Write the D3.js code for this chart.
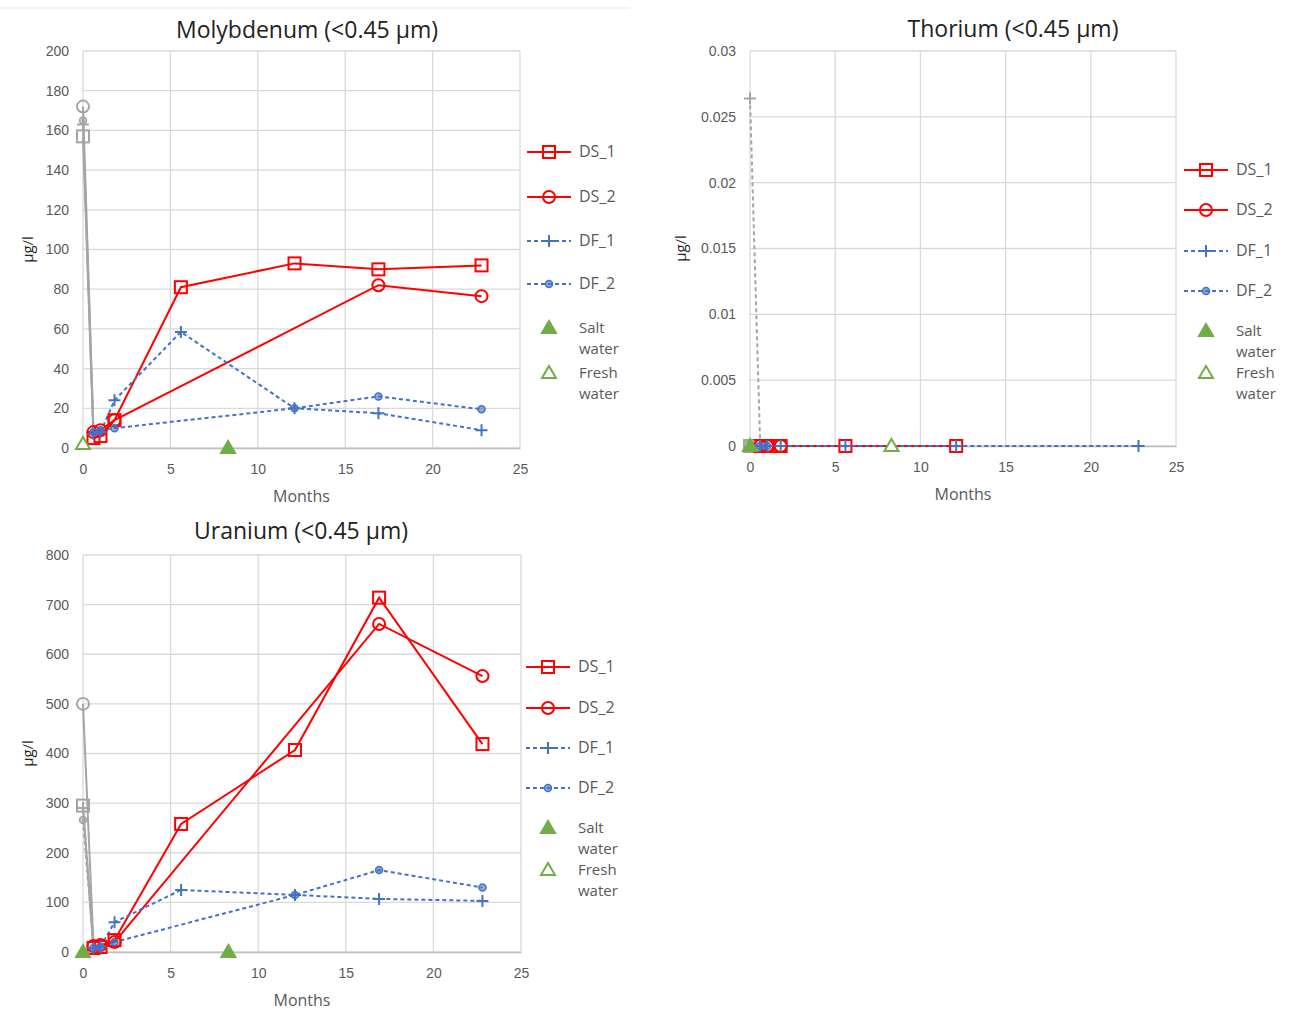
<!DOCTYPE html>
<html>
<head>
<meta charset="utf-8">
<script src="https://cdn.jsdelivr.net/npm/d3@7"></script>
<style>
  body { margin: 0; background: #fff; }
  svg { font-family: "Open Sans", "Noto Sans", sans-serif; }
</style>
</head>
<body>
<svg id="main" width="1293" height="1010"></svg>
<script>
// months of sampling (first point = initial value, drawn grey)
var dsMonths = [0, 0.6, 1.0, 1.8, 5.6, 12.1, 16.9, 22.8];
var dfMonths = [0, 0.6, 1.0, 1.8, 5.6, 12.1, 16.9, 22.8];

// Molybdenum (ug/l)
var moDS1 = [157, 5, 6, 14, 81, 93, 90, 92];
var moDS2 = [172, 8, 9, 14, null, null, 82, 76.5];
var moDF1 = [163, 7, 8, 24, 58.5, 20, 17.5, 9];
var moDF2 = [165, 8, 9, 10, null, 20, 26, 19.5];
var moSaltMonths = [8.3], moSalt = [0];
var moFreshMonths = [0], moFresh = [2];

// Thorium (ug/l)
var thDS1 = [0, 0, 0, 0, 0, 0, null, null];
var thDS2 = [0, 0, 0, 0, null, null, null, null];
var thDF1 = [0.0264, 0, 0, 0, 0, 0, null, 0];
var thDF2 = [0, 0, 0, null, null, null, null, null];
var thSaltMonths = [0], thSalt = [0];
var thFreshMonths = [8.3], thFresh = [0];

// Uranium (ug/l)
var uDS1 = [295, 8, 10, 24, 258, 407, 714, 419];
var uDS2 = [500, 12, 14, 20, null, null, 661, 556];
var uDF1 = [290, 8, 10, 60, 125, 115, 107, 103];
var uDF2 = [266, 8, 10, 20, null, 115, 165, 130];
var uSaltMonths = [0, 8.3], uSalt = [0, 0];
var uFreshMonths = [], uFresh = [];

var xTicks = [0, 5, 10, 15, 20, 25];
var moTicks = [0, 20, 40, 60, 80, 100, 120, 140, 160, 180, 200];
var thTicks = [0, 0.005, 0.01, 0.015, 0.02, 0.025, 0.03];
var uTicks = [0, 100, 200, 300, 400, 500, 600, 700, 800];

var legendNames = ["DS_1", "DS_2", "DF_1", "DF_2"];

var RED = "#FF0000", BLUE = "#4472C4", GREY = "#A5A5A5", GREEN = "#70AD47";
var GRID = "#D9D9D9", TEXT = "#595959";

var svg = d3.select("#main");

function pts(months, vals) {
  var out = [];
  for (var i = 0; i < months.length; i++) {
    if (vals[i] !== null && vals[i] !== undefined) out.push([months[i], vals[i]]);
  }
  return out;
}

function marker(g, type, x, y, color, fill) {
  if (type === "square") {
    g.append("rect").attr("x", x - 6).attr("y", y - 6).attr("width", 12).attr("height", 12)
      .attr("fill", "none").attr("stroke", color).attr("stroke-width", 2);
  } else if (type === "circle") {
    g.append("circle").attr("cx", x).attr("cy", y).attr("r", 6)
      .attr("fill", "none").attr("stroke", color).attr("stroke-width", 2);
  } else if (type === "plus") {
    g.append("path").attr("d", "M" + (x - 6) + "," + y + "h12M" + x + "," + (y - 6) + "v12")
      .attr("stroke", color).attr("stroke-width", 2);
  } else if (type === "dot") {
    g.append("circle").attr("cx", x).attr("cy", y).attr("r", 3.5)
      .attr("fill", color).attr("fill-opacity", 0.6).attr("stroke", color).attr("stroke-width", 1.5);
  } else if (type === "tri") {
    g.append("path").attr("d", "M" + x + "," + (y - 7) + "L" + (x + 7) + "," + (y + 5) + "L" + (x - 7) + "," + (y + 5) + "Z")
      .attr("fill", fill ? color : "#fff").attr("stroke", color).attr("stroke-width", 2);
  }
}

function drawChart(c) {
  var x = d3.scaleLinear().domain([0, 25]).range([c.left, c.right]);
  var y = d3.scaleLinear().domain([0, c.ticks[c.ticks.length - 1]]).range([c.bottom, c.top]);
  var g = svg.append("g");

  // grid
  g.selectAll(".hg").data(c.ticks).enter().append("line")
    .attr("x1", c.left).attr("x2", c.right)
    .attr("y1", function(d) { return y(d); }).attr("y2", function(d) { return y(d); })
    .attr("stroke", GRID).attr("stroke-width", 1.3);
  g.selectAll(".vg").data(xTicks).enter().append("line")
    .attr("y1", c.top).attr("y2", c.bottom)
    .attr("x1", function(d) { return x(d); }).attr("x2", function(d) { return x(d); })
    .attr("stroke", GRID).attr("stroke-width", 1.3);

  // axes
  var xa = g.append("g").attr("transform", "translate(0," + c.bottom + ")")
    .call(d3.axisBottom(x).tickValues(xTicks).tickSize(0).tickPadding(16).tickFormat(d3.format("d")));
  xa.select(".domain").attr("stroke", "#BFBFBF").attr("stroke-width", 1.5);
  var ya = g.append("g").attr("transform", "translate(" + c.left + ",0)")
    .call(d3.axisLeft(y).tickValues(c.ticks).tickSize(0).tickPadding(14).tickFormat(c.fmt));
  ya.select(".domain").remove();
  g.selectAll(".tick text").attr("font-size", 14).attr("fill", TEXT);

  // titles
  g.append("text").attr("x", c.titleX).attr("y", c.titleY).attr("text-anchor", "middle")
    .attr("font-size", 23).attr("fill", "#222").text(c.title);
  g.append("text").attr("x", (c.left + c.right) / 2).attr("y", c.bottom + 54)
    .attr("text-anchor", "middle").attr("font-size", 16).attr("fill", TEXT).text("Months");
  g.append("text").attr("transform", "translate(" + c.ylabX + "," + (c.top + c.bottom) / 2 + ") rotate(-90)")
    .attr("text-anchor", "middle").attr("font-size", 15).attr("fill", "#222").text("µg/l");

  var series = [
    { d: pts(dsMonths, c.ds1), m: "square", col: RED, dash: null },
    { d: pts(dsMonths, c.ds2), m: "circle", col: RED, dash: null },
    { d: pts(dfMonths, c.df1), m: "plus", col: BLUE, dash: "4,3" },
    { d: pts(dfMonths, c.df2), m: "dot", col: BLUE, dash: "4,3" }
  ];
  var line = d3.line().x(function(d) { return x(d[0]); }).y(function(d) { return y(d[1]); });

  series.forEach(function(s) {
    // grey segment from initial value
    g.append("path").datum(s.d.slice(0, 2)).attr("d", line).attr("fill", "none")
      .attr("stroke", GREY).attr("stroke-width", 2).attr("stroke-dasharray", s.dash);
    g.append("path").datum(s.d.slice(1)).attr("d", line).attr("fill", "none")
      .attr("stroke", s.col).attr("stroke-width", 2).attr("stroke-dasharray", s.dash);
  });
  series.forEach(function(s) {
    s.d.forEach(function(p, i) {
      marker(g, s.m, x(p[0]), y(p[1]), i === 0 ? GREY : s.col);
    });
  });
  pts(c.saltMonths, c.salt).forEach(function(p) { marker(g, "tri", x(p[0]), y(p[1]), GREEN, true); });
  pts(c.freshMonths, c.fresh).forEach(function(p) { marker(g, "tri", x(p[0]), y(p[1]), GREEN, false); });

  // legend
  var lg = g.append("g");
  legendNames.forEach(function(name, i) {
    var ly = c.legY[i], s = series[i];
    lg.append("line").attr("x1", c.legX).attr("x2", c.legX + 44).attr("y1", ly).attr("y2", ly)
      .attr("stroke", s.col).attr("stroke-width", 2).attr("stroke-dasharray", s.dash);
    marker(lg, s.m, c.legX + 22, ly, s.col);
    lg.append("text").attr("x", c.legX + 52).attr("y", ly + 5).attr("font-size", 16)
      .attr("fill", TEXT).text(name);
  });
  [["Salt", "water", true], ["Fresh", "water", false]].forEach(function(t, i) {
    var ly = c.legY[4 + i];
    marker(lg, "tri", c.legX + 22, ly, GREEN, t[2]);
    lg.append("text").attr("x", c.legX + 52).attr("y", ly + 5).attr("font-size", 15).attr("fill", TEXT).text(t[0]);
    lg.append("text").attr("x", c.legX + 52).attr("y", ly + 26).attr("font-size", 15).attr("fill", TEXT).text(t[1]);
  });
}

// faint chart border line on top
svg.append("line").attr("x1", 0).attr("x2", 630).attr("y1", 8).attr("y2", 8).attr("stroke", "#E6E6E6");

drawChart({
  title: "Molybdenum (<0.45 µm)", titleX: 307, titleY: 38,
  left: 83, right: 520, top: 51, bottom: 448, ylabX: 33,
  ticks: moTicks, fmt: d3.format("d"),
  ds1: moDS1, ds2: moDS2, df1: moDF1, df2: moDF2,
  saltMonths: moSaltMonths, salt: moSalt, freshMonths: moFreshMonths, fresh: moFresh,
  legX: 527, legY: [152, 197, 241, 284, 328, 373]
});

drawChart({
  title: "Thorium (<0.45 µm)", titleX: 1013, titleY: 37,
  left: 750, right: 1176, top: 51, bottom: 446, ylabX: 686,
  ticks: thTicks, fmt: function(d) { return d === 0 ? "0" : d3.format("")(+d.toFixed(3)); },
  ds1: thDS1, ds2: thDS2, df1: thDF1, df2: thDF2,
  saltMonths: thSaltMonths, salt: thSalt, freshMonths: thFreshMonths, fresh: thFresh,
  legX: 1184, legY: [170, 210, 251, 291, 331, 373]
});

drawChart({
  title: "Uranium (<0.45 µm)", titleX: 301, titleY: 539,
  left: 83, right: 521, top: 555, bottom: 952, ylabX: 33,
  ticks: uTicks, fmt: d3.format("d"),
  ds1: uDS1, ds2: uDS2, df1: uDF1, df2: uDF2,
  saltMonths: uSaltMonths, salt: uSalt, freshMonths: uFreshMonths, fresh: uFresh,
  legX: 526, legY: [667, 708, 748, 788, 828, 870]
});
</script>
</body>
</html>
